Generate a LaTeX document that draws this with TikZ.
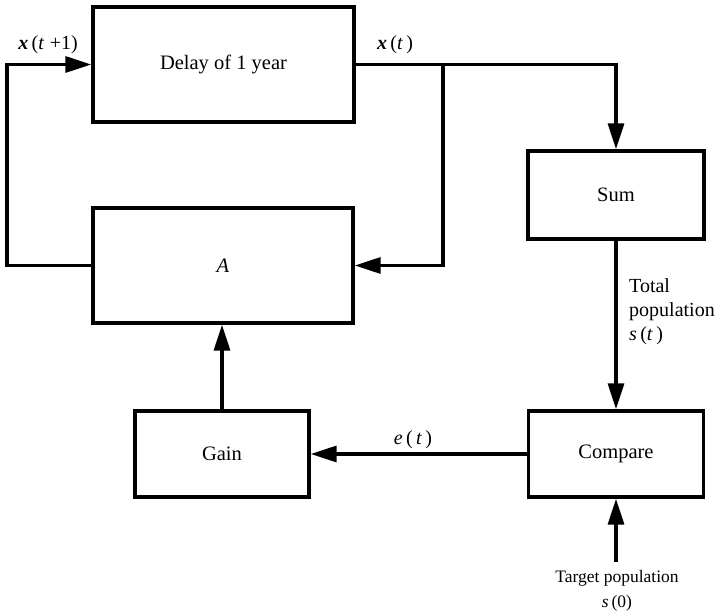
\documentclass[tikz,border=0pt]{standalone}
\usepackage{fontspec}
\setmainfont{Liberation Serif}
\usetikzlibrary{arrows.meta}
\begin{document}
\begin{tikzpicture}[x=1pt,y=-1pt,
  blk/.style={draw, line width=3.4pt, inner sep=0pt, font=\fontsize{20.5}{24}\selectfont},
  lbl/.style={inner sep=0pt, font=\fontsize{20}{24}\selectfont},
  tlbl/.style={inner sep=0pt, font=\fontsize{17.5}{25}\selectfont},
  wire/.style={line width=3.2pt},
  arr/.style={line width=3.2pt, -{Triangle[length=26pt,width=16pt]}}]
\useasboundingbox (0,0) rectangle (720,612);
% blocks
\node[blk, minimum width=261pt, minimum height=115pt] (delay) at (223.5,64.5) {Delay of 1 year};
\node[blk, minimum width=260pt, minimum height=115pt] (A) at (223,265.5) {\textit{A}};
\node[blk, minimum width=176pt, minimum height=88pt] (sum) at (616,195) {Sum};
\node[blk, minimum width=175pt, minimum height=86pt] (compare) at (616,454) {Compare};
\node[blk, minimum width=174pt, minimum height=86pt] (gain) at (222,454) {Gain};
% labels
\node[lbl] (xt1) at (48,45) {\textbf{\textit{x}}\,(\textit{t}\;+1)};
\node[lbl] (xt) at (395,45) {\textbf{\textit{x}}\,(\textit{t}\,)};
\node[lbl] (et) at (413,440) {\textit{e}\,(\,\textit{t}\,)};
\node[lbl, anchor=west, align=left] (tot) at (629,312) {Total\\population\\\textit{s}\,(\textit{t}\,)};
\node[tlbl, anchor=north, align=center] (target) at (617,570) {Target population\\\textit{s}\,(0)};
% coordinates
\coordinate (j) at (443,64.5);
\coordinate (lp) at (7,265.5);
\coordinate (ts) at (616,562);
% connectors
\draw[arr] (delay.east) -| (sum.north);
\draw[arr] (j) |- (A.east);
\draw[arr] (A.west) -- (lp) |- (delay.west);
\draw[arr] (gain.north) -- (gain.north |- A.south);
\draw[arr] (compare.west) -- (gain.east);
\draw[arr] (sum.south) -- (compare.north);
\draw[arr] (ts) -- (compare.south);
\end{tikzpicture}
\end{document}
